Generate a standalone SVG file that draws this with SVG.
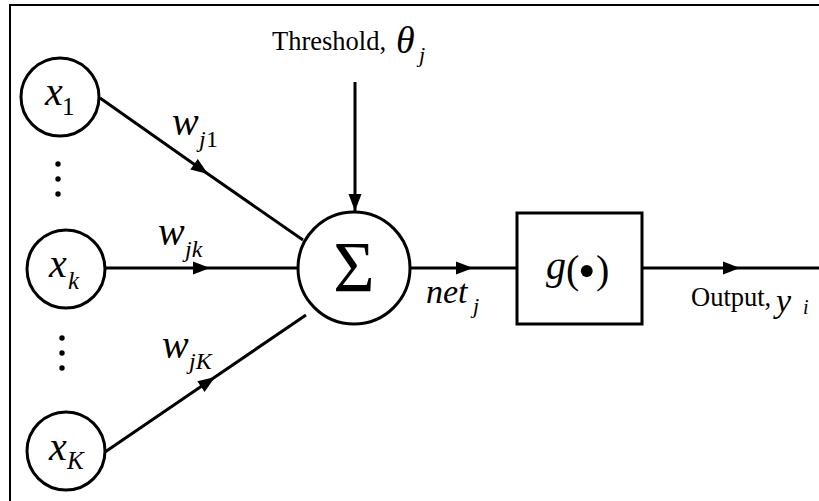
<svg xmlns="http://www.w3.org/2000/svg" width="819" height="501" viewBox="0 0 819 501">
<style>
.frame{stroke:#000;stroke-width:2;fill:none}
.node{fill:#fff;stroke:#000;stroke-width:3}
.conn{stroke:#000;stroke-width:3;fill:none}
.dot{fill:#000}
text{font-family:'Liberation Serif','Times New Roman',serif;fill:#000}
.m{font-style:italic}
</style>
<defs>
<marker id="arr" markerUnits="userSpaceOnUse" markerWidth="20" markerHeight="16" viewBox="-18 -8 20 16" refX="0" refY="0" orient="auto">
<path d="M0,0 L-17,-6.5 L-17,6.5 Z" fill="#000"/>
</marker>
</defs>
<rect width="819" height="501" fill="#fff"/>
<g id="frame">
<line class="frame" x1="9" y1="5" x2="819" y2="5"/>
<line class="frame" x1="10" y1="4" x2="10" y2="501"/>
</g>
<g id="connectors">
<path class="conn" d="M100,98 L208,174 L303,240" marker-mid="url(#arr)"/>
<path class="conn" d="M106,268 L210,268 L298,268" marker-mid="url(#arr)"/>
<path class="conn" d="M105,452 L215,377 L306,315" marker-mid="url(#arr)"/>
<path class="conn" d="M355,82 L355,211" marker-end="url(#arr)"/>
<path class="conn" d="M410,268 L473,268 L517,268" marker-mid="url(#arr)"/>
<path class="conn" d="M642,268 L740,268 L819,268" marker-mid="url(#arr)"/>
</g>
<g id="x1">
<circle class="node" cx="60" cy="97" r="39"/>
<text class="m" x="45" y="105" font-size="40">x</text>
<text x="62" y="115" font-size="25">1</text>
</g>
<g id="dots1">
<circle class="dot" cx="58" cy="164" r="2.7"/>
<circle class="dot" cx="58" cy="179" r="2.7"/>
<circle class="dot" cx="58" cy="194" r="2.7"/>
</g>
<g id="xk">
<circle class="node" cx="66" cy="269" r="39"/>
<text class="m" x="49" y="277" font-size="40">x</text>
<text class="m" x="68" y="289" font-size="25">k</text>
</g>
<g id="dots2">
<circle class="dot" cx="62" cy="338" r="2.7"/>
<circle class="dot" cx="62" cy="353" r="2.7"/>
<circle class="dot" cx="62" cy="368" r="2.7"/>
</g>
<g id="xK">
<circle class="node" cx="66" cy="451" r="39"/>
<text class="m" x="49" y="460" font-size="40">x</text>
<text class="m" x="67" y="469" font-size="25">K</text>
</g>
<g id="sum">
<circle class="node" cx="354" cy="268" r="56"/>
<text x="354" y="291" font-size="71" text-anchor="middle">Σ</text>
</g>
<g id="g">
<rect class="node" x="517" y="213" width="125" height="111"/>
<text class="m" x="546" y="279" font-size="40">g</text>
<text x="566" y="283" font-size="40">(</text>
<text x="578" y="288" font-size="50">•</text>
<text x="596" y="283" font-size="40">)</text>
</g>
<g id="labels">
<text x="272" y="50" font-size="26.5">Threshold,</text>
<text class="m" x="396" y="53" font-size="38">θ</text>
<text class="m" x="419" y="62" font-size="22">j</text>
<text class="m" x="172" y="135" font-size="40">w</text>
<text class="m" x="199" y="147" font-size="24">j</text>
<text x="206" y="147" font-size="24">1</text>
<text class="m" x="158" y="245" font-size="40">w</text>
<text class="m" x="185" y="257" font-size="24">jk</text>
<text class="m" x="162" y="358" font-size="40">w</text>
<text class="m" x="189" y="369" font-size="24">jK</text>
<text class="m" x="426" y="303" font-size="34">net</text>
<text class="m" x="473" y="313" font-size="22">j</text>
<text x="691" y="306" font-size="26.5">Output,</text>
<text class="m" x="776" y="312" font-size="34">y</text>
<text class="m" x="803" y="314" font-size="20">i</text>
</g>
</svg>
